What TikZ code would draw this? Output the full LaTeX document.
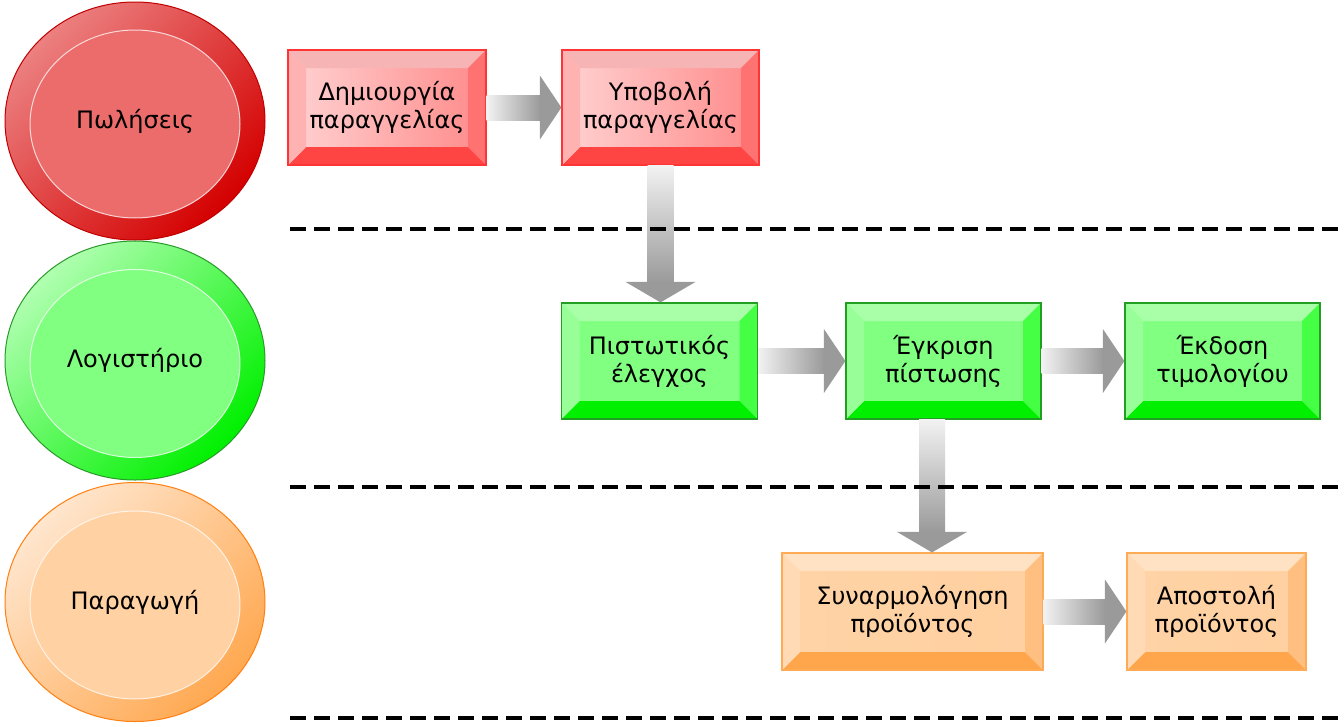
\documentclass[tikz,border=0pt]{standalone}
\usepackage{fontspec}
\setmainfont{DejaVu Sans}
\usetikzlibrary{shapes.geometric,calc}
\definecolor{arrowgray}{HTML}{9A9A9A}
\definecolor{arrowlight}{HTML}{F2F2F2}
\definecolor{arrowmid}{HTML}{AAAAAA}
% lane colours
\definecolor{rcB}{HTML}{C00000}\definecolor{rcL}{HTML}{EC8080}\definecolor{rcD}{HTML}{D40000}\definecolor{rcI}{HTML}{EC6C6C}
\definecolor{gcB}{HTML}{2A9A2A}\definecolor{gcL}{HTML}{B0FFB0}\definecolor{gcD}{HTML}{00F000}\definecolor{gcI}{HTML}{80FF80}
\definecolor{ocB}{HTML}{FF7F10}\definecolor{ocL}{HTML}{FFE6CE}\definecolor{ocD}{HTML}{FFA850}\definecolor{ocI}{HTML}{FFD1A3}
% box colours
\definecolor{rbB}{HTML}{FF3535}\definecolor{rbT}{HTML}{F6B4B4}\definecolor{rbL}{HTML}{FFB2B2}\definecolor{rbD}{HTML}{FF4444}
\definecolor{rbR}{HTML}{FF7272}\definecolor{rbIL}{HTML}{FFD2D2}\definecolor{rbIR}{HTML}{FF8A8A}
\definecolor{gbB}{HTML}{229E22}\definecolor{gbT}{HTML}{A8FFA8}\definecolor{gbL}{HTML}{98FF98}\definecolor{gbD}{HTML}{00F000}
\definecolor{gbR}{HTML}{44FF44}\definecolor{gbIL}{HTML}{80FF80}\definecolor{gbIR}{HTML}{80FF80}
\definecolor{obB}{HTML}{FFAA55}\definecolor{obT}{HTML}{FFE2C4}\definecolor{obL}{HTML}{FFDAB5}\definecolor{obD}{HTML}{FFA64D}
\definecolor{obR}{HTML}{FFBF80}\definecolor{obIL}{HTML}{FFD3A6}\definecolor{obIR}{HTML}{FFD0A0}
\tikzset{
  txt/.style={font=\fontsize{24}{28}\selectfont, text=black, align=center},
  lane/.style n args={4}{ellipse, draw=#1, line width=1pt, top color=#2, bottom color=#3,
    shading angle=45, minimum width=260pt, minimum height=238pt, inner sep=0pt, txt,
    path picture={
      \fill[#4] ([yshift=-3pt]path picture bounding box.center) ellipse [x radius=105pt, y radius=94pt];
      \draw[white, opacity=.75, line width=1pt] ([yshift=-3pt]path picture bounding box.center) ellipse [x radius=105pt, y radius=94pt];
    }},
  bevelbox/.style n args={7}{rectangle, draw=#1, line width=1.2pt, inner sep=0pt, txt,
    path picture={
      \path[left color=#6, right color=#7] (path picture bounding box.south west) rectangle (path picture bounding box.north east);
      \fill[#2] (path picture bounding box.north west) -- (path picture bounding box.north east)
        -- ([shift={(-18pt,-18pt)}]path picture bounding box.north east) -- ([shift={(18pt,-18pt)}]path picture bounding box.north west) -- cycle;
      \fill[#4] (path picture bounding box.south west) -- (path picture bounding box.south east)
        -- ([shift={(-18pt,18pt)}]path picture bounding box.south east) -- ([shift={(18pt,18pt)}]path picture bounding box.south west) -- cycle;
      \fill[#3] (path picture bounding box.north west) -- (path picture bounding box.south west)
        -- ([shift={(18pt,18pt)}]path picture bounding box.south west) -- ([shift={(18pt,-18pt)}]path picture bounding box.north west) -- cycle;
      \fill[#5] (path picture bounding box.north east) -- (path picture bounding box.south east)
        -- ([shift={(-18pt,18pt)}]path picture bounding box.south east) -- ([shift={(-18pt,-18pt)}]path picture bounding box.north east) -- cycle;
    }},
  redbox/.style={bevelbox={rbB}{rbT}{rbL}{rbD}{rbR}{rbIL}{rbIR}},
  greenbox/.style={bevelbox={gbB}{gbT}{gbL}{gbD}{gbR}{gbIL}{gbIR}},
  orangebox/.style={bevelbox={obB}{obT}{obL}{obD}{obR}{obIL}{obIR}},
  dashline/.style={line width=3.5pt, dash pattern=on 16pt off 8pt, black}
}
\newcommand\harrow[2]{%
  \path[left color=arrowlight, middle color=arrowmid, right color=arrowgray]
    ([yshift=12.5pt]#1.east) rectangle ([xshift=-21pt,yshift=-12.5pt]#2.west);
  \fill[arrowgray] ([xshift=-21.5pt,yshift=32pt]#2.west) -- (#2.west) -- ([xshift=-21.5pt,yshift=-32pt]#2.west) -- cycle;}
\newcommand\varrow[2]{%
  \path[top color=arrowlight, middle color=arrowmid, bottom color=arrowgray]
    ([xshift=-13pt]#1) rectangle ([xshift=13pt,yshift=20pt]#2);
  \fill[arrowgray] ([xshift=-35pt,yshift=20.5pt]#2) -- (#2) -- ([xshift=35pt,yshift=20.5pt]#2) -- cycle;}
\begin{document}
\begin{tikzpicture}[x=1pt,y=-1pt]
\useasboundingbox[fill=white] (0,0) rectangle (1344,726);
% lanes
\node[lane={rcB}{rcL}{rcD}{rcI}] (sales) at (135,121) {Πωλήσεις};
\node[lane={gcB}{gcL}{gcD}{gcI}, minimum height=239pt] (acc) at (135,360.5) {Λογιστήριο};
\node[lane={ocB}{ocL}{ocD}{ocI}, minimum height=239pt] (prod) at (135,602) {Παραγωγή};
% boxes
\node[redbox, minimum width=198pt, minimum height=115pt] (create) at (387,107.5) {Δημιουργία\\παραγγελίας};
\node[redbox, minimum width=197pt, minimum height=115pt] (submit) at (660.5,107.5) {Υποβολή\\παραγγελίας};
\node[greenbox, minimum width=196pt, minimum height=116pt] (credit) at (659.5,361) {Πιστωτικός\\έλεγχος};
\node[greenbox, minimum width=195pt, minimum height=116pt] (approve) at (943.5,361) {Έγκριση\\πίστωσης};
\node[greenbox, minimum width=195pt, minimum height=116pt] (invoice) at (1222.5,361) {Έκδοση\\τιμολογίου};
\node[orangebox, minimum width=261pt, minimum height=117pt] (assembly) at (912.5,611.5) {Συναρμολόγηση\\προϊόντος};
\node[orangebox, minimum width=179pt, minimum height=117pt] (ship) at (1216.5,611.5) {Αποστολή\\προϊόντος};
% arrows
\harrow{create}{submit}
\harrow{credit}{approve}
\harrow{approve}{invoice}
\harrow{assembly}{ship}
\coordinate (v1a) at (submit.south);
\coordinate (v1b) at (v1a |- credit.north);
\varrow{v1a}{v1b}
\coordinate (v2a) at ([xshift=-11.5pt]approve.south);
\coordinate (v2b) at (v2a |- assembly.north);
\varrow{v2a}{v2b}
% lane separators
\draw[dashline] (290,229) -- (1344,229);
\draw[dashline] (290,487) -- (1344,487);
\draw[dashline] (290,718) -- (1344,718);
\end{tikzpicture}
\end{document}
